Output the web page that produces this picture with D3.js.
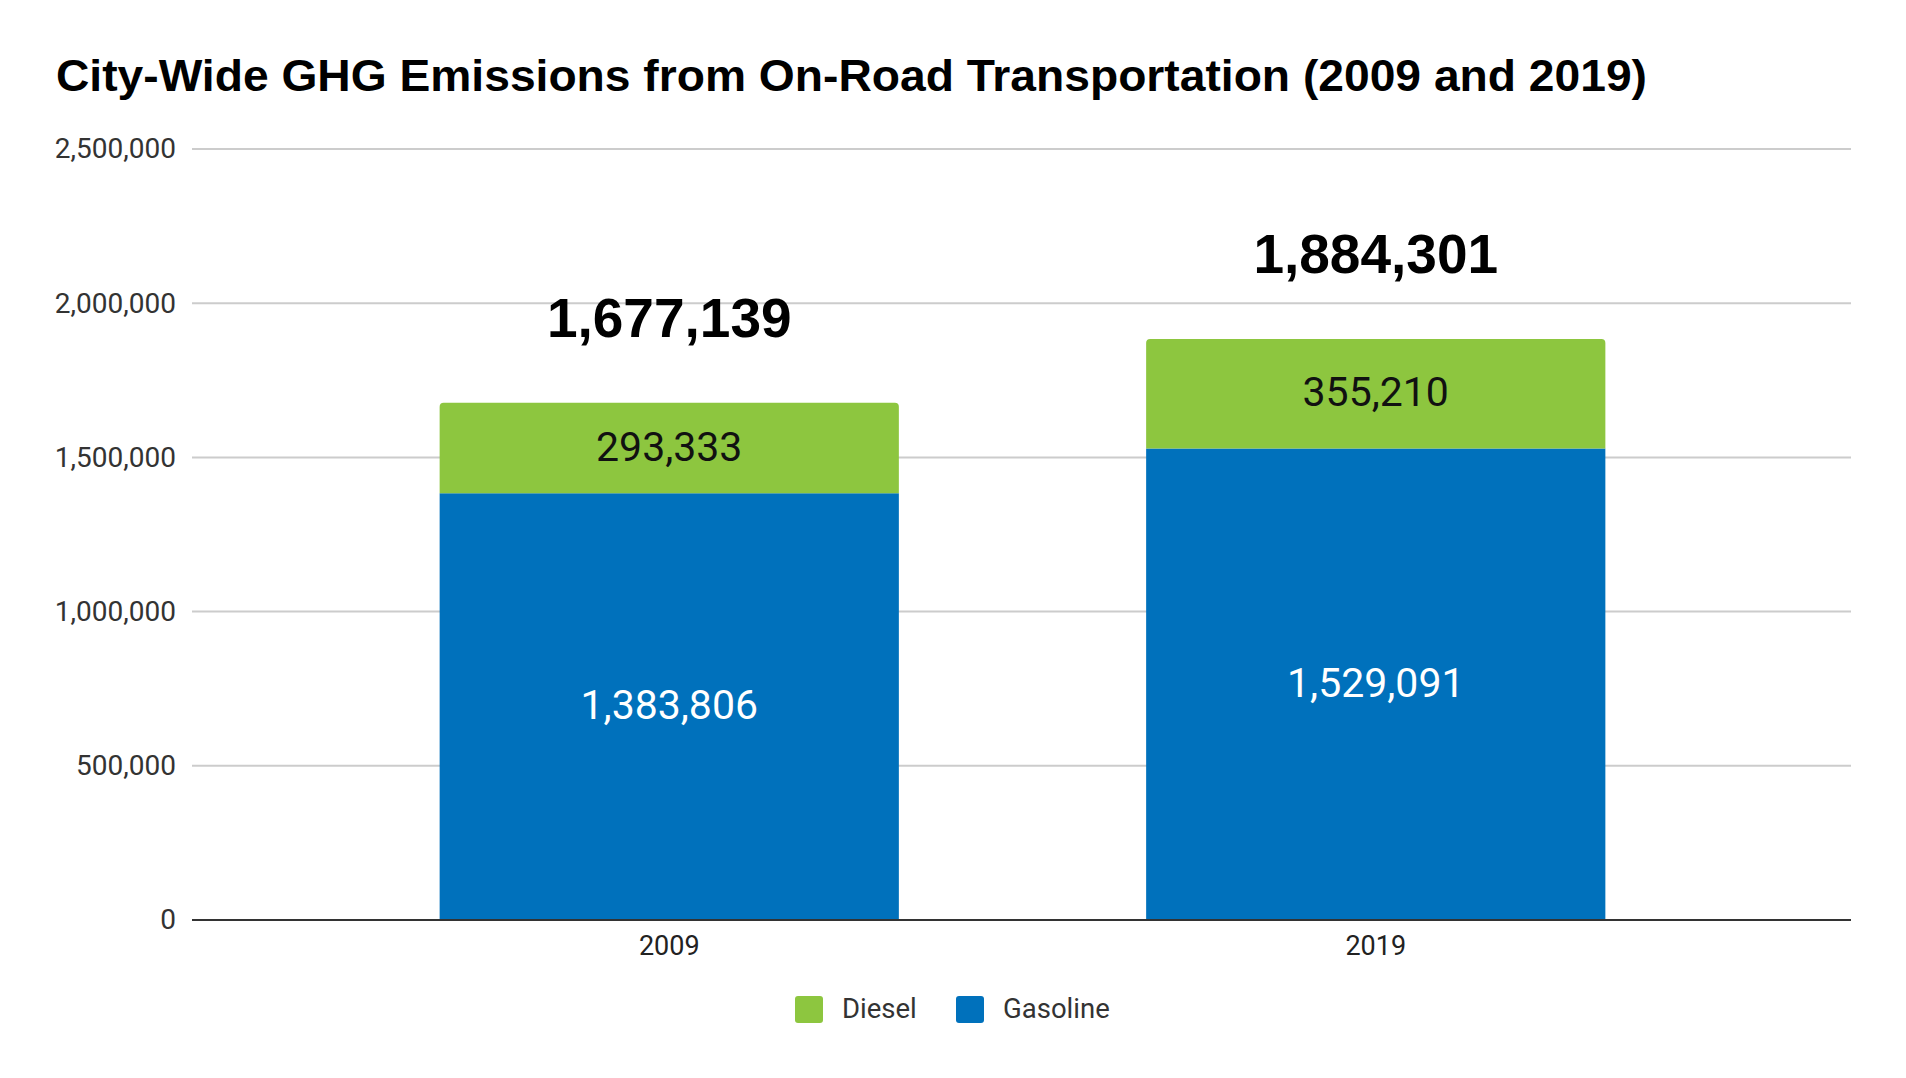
<!DOCTYPE html>
<html>
<head>
<meta charset="utf-8">
<script src="https://cdn.jsdelivr.net/npm/d3@7"></script>
<style>
  html, body { margin: 0; padding: 0; background: #fff; }
  svg { display: block; }
</style>
</head>
<body>
<svg id="chart" width="1906" height="1078"></svg>
<script>
const categories = ["2009", "2019"];
const gasoline = [1383806, 1529091];
const diesel = [293333, 355210];
const seriesNames = ["Diesel", "Gasoline"];
const yTicks = [0, 500000, 1000000, 1500000, 2000000, 2500000];
const titleText = "City-Wide GHG Emissions from On-Road Transportation (2009 and 2019)";

const colors = { Diesel: "#8dc63f", Gasoline: "#0071bc" };
const svg = d3.select("#chart");

const plot = { left: 192, right: 1851, top: 149, bottom: 920 };

const y = d3.scaleLinear().domain([0, 2500000]).range([plot.bottom, plot.top]);
const x = d3.scaleBand().domain(categories).range([316, 1729])
  .paddingInner(0.35).paddingOuter(0.175);

const fmt = d3.format(",");

// Title
svg.append("text")
  .attr("x", 56).attr("y", 91)
  .attr("font-family", "'Liberation Sans', Arial, sans-serif")
  .attr("font-weight", "bold")
  .attr("font-size", 44)
  .attr("textLength", 1591)
  .attr("lengthAdjust", "spacingAndGlyphs")
  .attr("fill", "#000")
  .text(titleText);

// Gridlines
const grid = svg.append("g");
grid.selectAll("line").data(yTicks.filter(d => d !== 0)).join("line")
  .attr("x1", plot.left).attr("x2", plot.right)
  .attr("y1", d => y(d)).attr("y2", d => y(d))
  .attr("stroke", "#cccccc").attr("stroke-width", 2);

// Y axis labels
const yAxis = d3.axisLeft(y).tickValues(yTicks).tickFormat(fmt).tickSize(0).tickPadding(16);
const ya = svg.append("g").attr("transform", `translate(${plot.left},0)`).call(yAxis);
ya.select(".domain").remove();
ya.selectAll("text")
  .attr("font-family", "Roboto, sans-serif")
  .attr("font-size", 28)
  .attr("fill", "#333");

// Data stacking
const data = categories.map((c, i) => ({ cat: c, Gasoline: gasoline[i], Diesel: diesel[i] }));
const stack = d3.stack().keys(["Gasoline", "Diesel"])(data);

function topRounded(x0, y0, w, h, r) {
  return `M${x0},${y0 + h} V${y0 + r} Q${x0},${y0} ${x0 + r},${y0} H${x0 + w - r} Q${x0 + w},${y0} ${x0 + w},${y0 + r} V${y0 + h} Z`;
}

const bars = svg.append("g");
stack.forEach(layer => {
  const key = layer.key;
  bars.selectAll(null).data(layer).join("path")
    .attr("d", d => {
      const x0 = x(d.data.cat), w = x.bandwidth();
      const y0 = y(d[1]), h = y(d[0]) - y(d[1]);
      return key === "Diesel" ? topRounded(x0, y0, w, h, 4) : `M${x0},${y0} h${w} v${h} h${-w} Z`;
    })
    .attr("fill", colors[key]);
  bars.selectAll(null).data(layer).join("text")
    .attr("x", d => x(d.data.cat) + x.bandwidth() / 2)
    .attr("y", d => (y(d[0]) + y(d[1])) / 2 - 2)
    .attr("dy", "0.355em")
    .attr("text-anchor", "middle")
    .attr("font-family", "Roboto, sans-serif")
    .attr("font-size", 41)
    .attr("fill", key === "Diesel" ? "#111" : "#fff")
    .text(d => fmt(d.data[key]));
});

// Totals
svg.append("g").selectAll("text").data(data).join("text")
  .attr("x", d => x(d.cat) + x.bandwidth() / 2)
  .attr("y", d => y(d.Gasoline + d.Diesel) - 66)
  .attr("text-anchor", "middle")
  .attr("font-family", "'Liberation Sans', Arial, sans-serif")
  .attr("font-weight", "bold")
  .attr("font-size", 55)
  .attr("fill", "#000")
  .text(d => fmt(d.Gasoline + d.Diesel));

// X axis baseline
svg.append("line")
  .attr("x1", plot.left).attr("x2", plot.right)
  .attr("y1", y(0)).attr("y2", y(0))
  .attr("stroke", "#333").attr("stroke-width", 2);

// X labels
const xAxis = d3.axisBottom(x).tickSize(0).tickPadding(0);
const xa = svg.append("g").attr("transform", `translate(0,${y(0)})`).call(xAxis);
xa.select(".domain").remove();
xa.selectAll("text")
  .attr("y", 35).attr("dy", 0)
  .attr("font-family", "Roboto, sans-serif")
  .attr("font-size", 27)
  .attr("fill", "#222");

// Legend
const legendItems = [
  { name: seriesNames[0], x: 795 },
  { name: seriesNames[1], x: 956 }
];
const lg = svg.append("g");
legendItems.forEach(it => {
  lg.append("rect")
    .attr("x", it.x).attr("y", 996).attr("width", 28).attr("height", 27)
    .attr("rx", 3).attr("fill", colors[it.name]);
  lg.append("text")
    .attr("x", it.x + 47).attr("y", 1018)
    .attr("font-family", "Roboto, sans-serif")
    .attr("font-size", 27.5)
    .attr("fill", "#333")
    .text(it.name);
});
</script>
</body>
</html>
